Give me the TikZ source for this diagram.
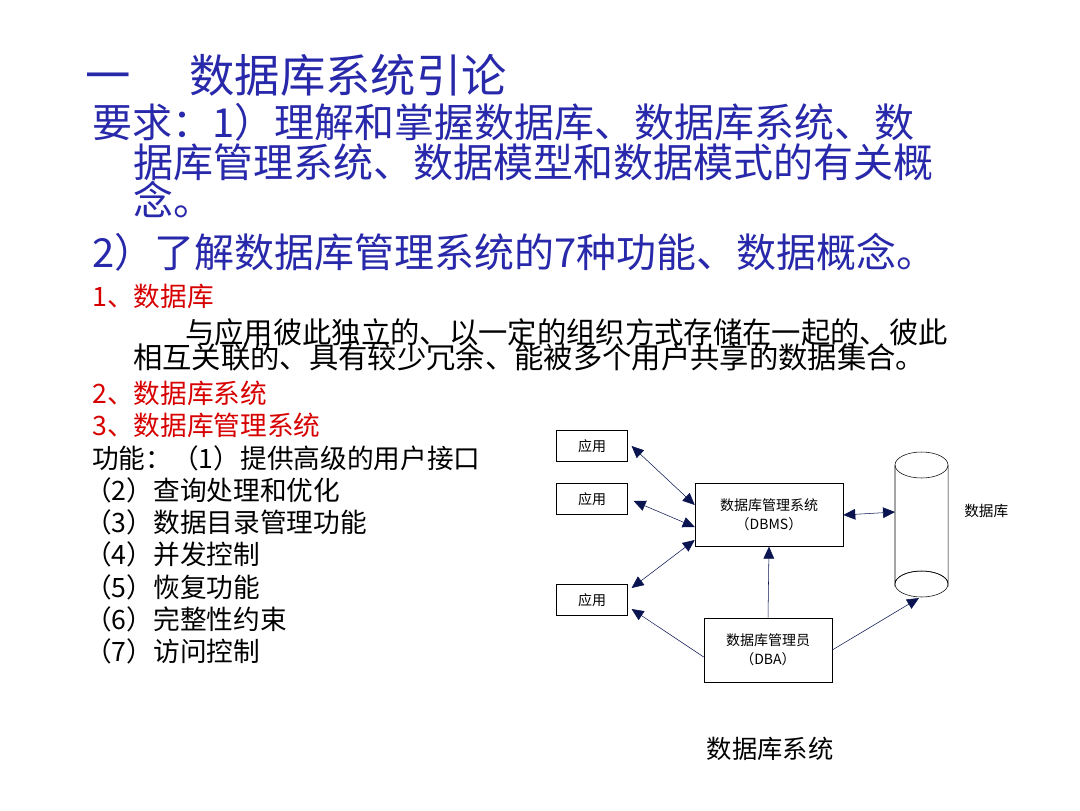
\documentclass[tikz,border=0pt]{standalone}
\usepackage{fontspec}
\setmainfont{Noto Sans CJK SC}
\usetikzlibrary{arrows.meta,positioning,shapes.geometric,calc}
\definecolor{myblue}{RGB}{40,40,170}
\definecolor{myred}{RGB}{215,0,0}
\definecolor{mynavy}{RGB}{10,20,80}

\begin{document}
\begin{tikzpicture}[x=0.75pt,y=-0.75pt,
  txt/.style={anchor=west,inner sep=0pt},
  big/.style={txt,font=\fontsize{30}{32}\selectfont,text=myblue},
  head/.style={txt,font=\fontsize{20}{22}\selectfont,text=myred},
  body/.style={txt,font=\fontsize{20}{22}\selectfont},
  box/.style={draw,inner sep=0pt,font=\fontsize{10.5}{14}\selectfont,align=center},
  link/.style={draw=mynavy,thin,{Triangle[length=9pt,width=8pt]}-{Triangle[length=9pt,width=8pt]}},
  ulink/.style={draw=mynavy,thin,-{Triangle[length=9pt,width=8pt]}}]

  \useasboundingbox (0,0) rectangle (1080,810);

  % heading and text
  \node[txt,font=\fontsize{34}{36}\selectfont,text=myblue] (title) at (85,75) {一\hspace{1.3em}数据库系统引论};
  \node[big] (req1) at (92,122) {要求：1）理解和掌握数据库、数据库系统、数};
  \node[big] (req2) at (133,162) {据库管理系统、数据模型和数据模式的有关概};
  \node[big] (req3) at (133,200) {念。};
  \node[big] (req4) at (92,252) {2）了解数据库管理系统的7种功能、数据概念。};
  \node[head] (h1) at (92,296) {1、数据库};
  \node[body,font=\fontsize{22}{24}\selectfont] (def1) at (185,332) {与应用彼此独立的、以一定的组织方式存储在一起的、彼此};
  \node[body,font=\fontsize{22}{24}\selectfont] (def2) at (133,357) {相互关联的、具有较少冗余、能被多个用户共享的数据集合。};
  \node[head] (h2) at (92,393) {2、数据库系统};
  \node[head] (h3) at (92,425) {3、数据库管理系统};
  \node[body] (f1) at (92,458) {功能：（1）提供高级的用户接口};
  \node[body] (f2) at (85,490) {（2）查询处理和优化};
  \node[body] (f3) at (85,522) {（3）数据目录管理功能};
  \node[body] (f4) at (85,554) {（4）并发控制};
  \node[body] (f5) at (85,587) {（5）恢复功能};
  \node[body] (f6) at (85,619) {（6）完整性约束};
  \node[body] (f7) at (85,651) {（7）访问控制};

  % diagram
  \node[box,minimum width=53pt,minimum height=23pt] (app1) at (592,446) {应用};
  \node[box,minimum width=53pt,minimum height=23pt] (app2) at (592,499) {应用};
  \node[box,minimum width=53pt,minimum height=23pt] (app3) at (592,600) {应用};
  \node[box,minimum width=111pt,minimum height=47pt] (dbms) at (769,515) {数据库管理系统\\（DBMS）};
  \node[box,minimum width=96pt,minimum height=48pt] (dba) at (768,650) {数据库管理员\\（DBA）};

  \draw (895,465) coordinate (cyl-tl) -- (895,584) arc[start angle=180,end angle=360,x radius=26.5,y radius=13] -- (948,465) coordinate (cyl-tr);
  \draw (921.5,465) ellipse[x radius=26.5,y radius=13];
  \draw (921.5,584) ellipse[x radius=26.5,y radius=13];
  \coordinate (cyl-l) at (895,512);
  \coordinate (cyl-b) at (919,598);
  \node[txt,font=\fontsize{11}{13}\selectfont] (dblabel) at (964,511) {数据库};

  \draw[link] (app1.east) ++(4,0) coordinate (a1) (a1) -- (dbms.west |- 0,505);
  \draw[link] (app2.east) ++(6,2) coordinate (a2) (a2) -- (dbms.west |- 0,527);
  \draw[link] (app3.east) ++(4,-12) coordinate (a3) (a3) -- (dbms.west |- 0,540);
  \draw[link] (dbms.east) -- (cyl-l);
  \draw[ulink] (dba.north) -- (dbms.south);
  \draw[ulink] (dba.west |- 0,657) -- ($(app3.east)+(4,9)$);
  \draw[ulink] (dba.east |- 0,650) -- (cyl-b);

  \node[font=\fontsize{19}{21}\selectfont] (caption) at (770,749) {数据库系统};
\end{tikzpicture}
\end{document}
